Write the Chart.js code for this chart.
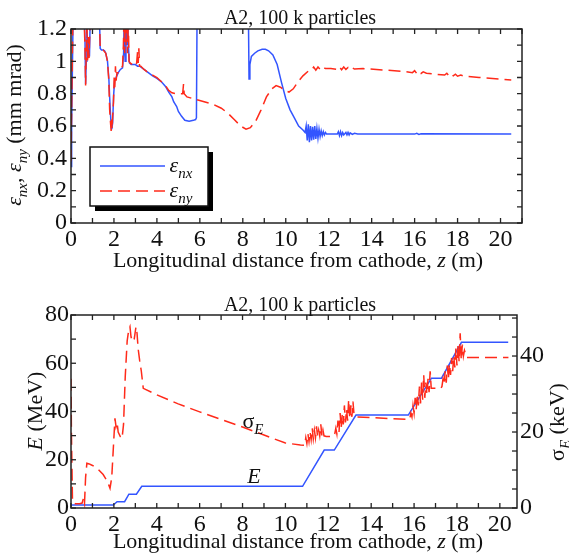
<!DOCTYPE html>
<html>
<head>
<meta charset="utf-8">
<script src="https://cdn.jsdelivr.net/npm/chart.js@4"></script>
<style>
body { margin: 0; background: #fff; }
canvas { position: absolute; left: 0; }
#top { top: 0; }
#bottom { top: 280px; }
</style>
</head>
<body>
<canvas id="top" width="569" height="280"></canvas>
<canvas id="bottom" width="569" height="277"></canvas>
<script>
// emittance vs z, [z (m), mm mrad]
var epsNX = [[0,0.35],[0.03,0.6],[0.07,1.0],[0.1,1.3],[0.2,1.5],[0.35,1.5],[0.5,1.4],[0.6,1.3],[0.65,1.15],[0.68,0.86],
  [0.71,1.0],[0.74,1.2],[0.78,1.05],[0.82,1.12],[0.86,1.03],[0.9,1.3],[0.95,1.5],[1.1,1.5],[1.3,1.4],[1.36,1.08],
  [1.42,1.07],[1.5,1.07],[1.56,1.065],[1.62,1.05],[1.7,1.0],[1.76,0.9],[1.82,0.72],[1.87,0.6],[1.9,0.58],[1.94,0.62],
  [1.98,0.78],[2.03,0.88],[2.1,0.9],[2.2,0.93],[2.3,0.95],[2.4,0.96],[2.45,1.05],[2.48,1.3],[2.52,1.0],[2.56,1.3],
  [2.6,1.1],[2.63,1.3],[2.67,1.1],[2.72,0.99],[2.8,0.98],[2.9,0.98],[3.0,0.98],[3.1,0.97],[3.2,0.97],[3.4,0.95],
  [3.6,0.93],[3.8,0.91],[4.0,0.895],[4.2,0.875],[4.4,0.845],[4.55,0.81],[4.7,0.78],[4.78,0.75],[4.85,0.735],[4.92,0.72],
  [5.0,0.69],[5.15,0.66],[5.3,0.635],[5.5,0.63],[5.7,0.635],[5.8,0.64],[5.84,0.65],[5.88,1.5],[6.5,1.5],[7.5,1.5],
  [8.2,1.5],[8.26,1.3],[8.29,0.89],[8.33,0.98],[8.4,1.03],[8.55,1.05],[8.7,1.065],[8.9,1.075],[9.05,1.075],[9.2,1.065],
  [9.4,1.04],[9.6,0.98],[9.8,0.87],[10.0,0.77],[10.2,0.7],[10.4,0.65],[10.6,0.6],[10.8,0.575],[10.9,0.56],
  [10.95,0.6],[11.0,0.51],[11.05,0.61],[11.1,0.5],[11.15,0.6],[11.2,0.51],[11.25,0.595],[11.3,0.515],[11.35,0.6],
  [11.4,0.52],[11.45,0.585],[11.5,0.525],[11.55,0.58],[11.6,0.535],[11.65,0.57],[11.7,0.54],[11.75,0.565],[11.8,0.545],
  [11.85,0.56],[11.9,0.55],[12.4,0.55],[12.45,0.565],[12.5,0.54],[12.55,0.565],[12.6,0.54],[12.65,0.56],[12.7,0.545],
  [12.8,0.56],[12.85,0.545],[12.9,0.56],[12.95,0.545],[13.0,0.558],[13.1,0.548],[13.2,0.555],[13.35,0.55],[16.0,0.55],
  [16.1,0.555],[16.2,0.548],[16.3,0.552],[20.5,0.55]];
var epsNY = [[0,0.38],[0.03,0.7],[0.07,1.1],[0.1,1.35],[0.2,1.5],[0.35,1.5],[0.5,1.4],[0.6,1.3],[0.65,1.1],[0.68,0.85],
  [0.71,1.05],[0.74,1.25],[0.77,1.0],[0.8,1.15],[0.84,1.02],[0.88,1.2],[0.92,1.5],[1.1,1.5],[1.3,1.4],[1.36,1.08],
  [1.42,1.07],[1.5,1.07],[1.56,1.06],[1.62,1.05],[1.7,1.0],[1.76,0.88],[1.8,0.7],[1.84,0.62],[1.87,0.57],[1.89,0.64],
  [1.91,0.58],[1.94,0.66],[1.98,0.75],[2.01,0.9],[2.04,0.84],[2.07,0.97],[2.1,0.88],[2.14,0.93],[2.2,0.93],[2.3,0.95],
  [2.4,0.97],[2.44,1.1],[2.47,1.3],[2.5,1.05],[2.53,1.3],[2.56,1.1],[2.6,1.3],[2.63,1.05],[2.67,1.25],[2.7,1.0],
  [2.75,0.99],[2.85,0.98],[2.95,0.99],[3.05,0.98],[3.1,1.06],[3.13,0.99],[3.16,1.08],[3.19,0.97],[3.25,0.97],[3.4,0.95],
  [3.6,0.93],[3.8,0.915],[4.0,0.9],[4.2,0.875],[4.4,0.85],[4.55,0.82],[4.7,0.805],[4.9,0.8],[5.1,0.8],[5.2,0.8],
  [5.24,0.86],[5.27,0.8],[5.4,0.78],[5.8,0.765],[6.2,0.75],[6.6,0.735],[7.0,0.71],[7.3,0.68],[7.6,0.64],[7.9,0.6],
  [8.15,0.58],[8.35,0.59],[8.6,0.63],[8.85,0.7],[9.1,0.78],[9.35,0.83],[9.55,0.85],[9.75,0.84],[9.95,0.82],[10.15,0.81],
  [10.35,0.83],[10.55,0.87],[10.8,0.91],[11.05,0.94],[11.2,0.945],[11.3,0.965],[11.4,0.945],[11.5,0.965],[11.6,0.95],
  [11.7,0.965],[11.85,0.955],[12.1,0.955],[12.4,0.95],[12.5,0.966],[12.6,0.948],[12.7,0.965],[12.8,0.95],[12.9,0.962],
  [13.0,0.95],[13.1,0.96],[13.2,0.952],[13.6,0.955],[14.5,0.947],[15.5,0.937],[15.9,0.93],[16.0,0.942],[16.1,0.925],
  [16.2,0.938],[16.3,0.925],[16.4,0.935],[16.55,0.926],[17.0,0.92],[17.4,0.915],[17.5,0.926],[17.6,0.91],[17.7,0.922],
  [17.8,0.91],[17.9,0.92],[18.0,0.908],[18.15,0.915],[18.3,0.908],[19.0,0.9],[20.5,0.885]];

// beam energy [z, MeV] and energy spread [z, keV]
var energyE = [[0,1.2],[1.97,1.2],[2.15,2.6],[2.5,2.6],[2.7,5.7],[3.05,5.7],[3.3,9],[10.8,9],[11.81,24],[12.28,24],
  [13.29,38.5],[15.73,38.5],[16.81,53.8],[17.28,53.8],[18.21,68.7],[20.39,68.7]];
var sigmaE = [[0,34],[0.02,20],[0.07,1.5],[0.2,1.1],[0.4,1.1],[0.52,1.3],[0.58,2.6],[0.63,1.2],[0.68,8],[0.74,11.8],
  [0.85,11.6],[1.0,11.2],[1.25,10.3],[1.5,8.8],[1.7,7],[1.82,5.2],[1.9,8],[1.97,15.3],[2.05,23.6],[2.1,21.4],
  [2.15,22.5],[2.2,20],[2.3,18.8],[2.38,18.3],[2.45,22],[2.53,34.6],[2.62,44],[2.69,46.8],[2.75,47.7],[2.8,45],
  [2.87,43.8],[2.95,44.5],[3.03,47.7],[3.08,46],[3.13,42],[3.2,38.9],[3.28,36],[3.37,31.5],[4,29.8],[5,27.4],
  [6,25.3],[7,23.3],[8,21.3],[9,19.2],[10,17.1],[10.7,16.6],[10.9,16.5],[10.95,18.5],[11.0,17],[11.05,19.5],
  [11.1,17.5],[11.15,20],[11.2,18],[11.25,21],[11.3,18.2],[11.35,20.5],[11.4,18.5],[11.45,21.5],[11.5,18.8],[11.55,20.5],
  [11.6,19],[11.65,22],[11.7,19],[11.75,20.5],[11.8,19],[11.9,18.8],[12.2,18.8],[12.3,19.5],[12.35,21],[12.4,19.5],
  [12.45,23],[12.5,20],[12.55,25],[12.6,21],[12.65,24.5],[12.7,22],[12.75,27],[12.8,22.5],[12.85,26],[12.9,23],
  [12.95,28.5],[13.0,23.5],[13.05,27],[13.1,24],[13.15,28],[13.2,24.5],[13.3,24],[15.73,23.3],[15.8,23.5],[15.85,25],
  [15.9,24],[15.95,27],[16.0,25],[16.05,29],[16.1,26],[16.15,30],[16.2,27],[16.25,32],[16.3,27.5],[16.35,33],
  [16.4,28.5],[16.45,35],[16.5,29],[16.55,33],[16.6,30],[16.65,34],[16.7,30.5],[16.75,36],[16.8,31.5],[17.25,31.5],
  [17.3,32],[17.35,34],[17.4,32.5],[17.45,36],[17.5,33],[17.55,37.5],[17.6,34],[17.65,38],[17.7,35],[17.75,39.5],
  [17.8,36],[17.85,40],[17.9,37],[17.95,42],[18.0,37.5],[18.05,43],[18.1,38.5],[18.15,46],[18.2,39],[18.25,43],
  [18.3,40],[18.35,41.5],[18.45,39.6],[20.4,39.6]];

var zTicks = [0, 2, 4, 6, 8, 10, 12, 14, 16, 18, 20];
var epsTicks = [0, 0.2, 0.4, 0.6, 0.8, 1, 1.2];
var eTicks = [0, 20, 40, 60, 80];
var sigTicks = [0, 20, 40];

var BLUE = '#3355ff';
var RED = '#ff2a1a';
var SERIF = "'Liberation Serif', 'Times New Roman', serif";

function pts(arr) {
  return arr.map(function (p) { return { x: p[0], y: p[1] }; });
}
function setTicks(vals) {
  return function (s) { s.ticks = vals.map(function (v) { return { value: v }; }); };
}

// mixed text: parts = [text, italic, subscript]
function drawRich(ctx, parts, x, y, angle, size) {
  size = size || 22;
  var sub = Math.round(size * 0.68);
  function font(p) { return (p[1] ? 'italic ' : '') + (p[2] ? sub : size) + 'px ' + SERIF; }
  ctx.save();
  ctx.translate(x, y);
  ctx.rotate(angle || 0);
  ctx.fillStyle = '#111';
  ctx.textBaseline = 'alphabetic';
  ctx.textAlign = 'left';
  var w = 0;
  parts.forEach(function (p) { ctx.font = font(p); w += ctx.measureText(p[0]).width; });
  var cx = -w / 2;
  parts.forEach(function (p) {
    ctx.font = font(p);
    ctx.fillText(p[0], cx, p[2] ? size * 0.25 : 0);
    cx += ctx.measureText(p[0]).width;
  });
  ctx.restore();
}

// frame plus inward tick marks
function drawFrame(chart, marks) {
  var ctx = chart.ctx, a = chart.chartArea;
  ctx.save();
  ctx.strokeStyle = '#222';
  ctx.lineWidth = 1.5;
  ctx.strokeRect(a.left, a.top, a.right - a.left, a.bottom - a.top);
  ctx.lineWidth = 1.3;
  marks.forEach(function (m) {
    var s = chart.scales[m.id];
    for (var i = 0; i * m.step <= s.max + 1e-9; i++) {
      var p = s.getPixelForValue(i * m.step);
      ctx.beginPath();
      if (m.id === 'x') {
        ctx.moveTo(p, a.bottom); ctx.lineTo(p, a.bottom - 5);
        ctx.moveTo(p, a.top); ctx.lineTo(p, a.top + 5);
      } else {
        if (m.left) { ctx.moveTo(a.left, p); ctx.lineTo(a.left + 5, p); }
        if (m.right) { ctx.moveTo(a.right, p); ctx.lineTo(a.right - 5, p); }
      }
      ctx.stroke();
    }
  });
  ctx.restore();
}

var tickFont = { family: SERIF, size: 24 };
var plainLabel = function (v) { return String(v); };
var xTitle = [['Longitudinal distance from cathode, ', 0, 0], ['z', 1, 0], [' (m)', 0, 0]];

var topDecor = {
  id: 'topDecor',
  afterDraw: function (chart) {
    var ctx = chart.ctx;
    drawFrame(chart, [{ id: 'x', step: 1 }, { id: 'y', step: 0.1, left: true, right: true }]);
    drawRich(ctx, [['A2, 100 k particles', 0, 0]], 300, 24, 0, 20);
    drawRich(ctx, xTitle, 298, 267);
    drawRich(ctx, [['ε', 1, 0], ['nx', 1, 1], [', ', 0, 0], ['ε', 1, 0], ['ny', 1, 1], [' (mm mrad)', 0, 0]], 21, 125, -Math.PI / 2);
    // legend box with drop shadow
    ctx.save();
    ctx.fillStyle = '#000';
    ctx.fillRect(95, 152, 118, 59);
    ctx.fillStyle = '#fff';
    ctx.fillRect(90, 147, 118, 59);
    ctx.strokeStyle = '#111';
    ctx.lineWidth = 1.5;
    ctx.strokeRect(90, 147, 118, 59);
    ctx.lineWidth = 1.5;
    ctx.strokeStyle = BLUE;
    ctx.beginPath(); ctx.moveTo(100, 166); ctx.lineTo(165, 166); ctx.stroke();
    ctx.strokeStyle = RED;
    ctx.setLineDash([12, 6]);
    ctx.beginPath(); ctx.moveTo(100, 191); ctx.lineTo(165, 191); ctx.stroke();
    ctx.restore();
    drawRich(ctx, [['ε', 1, 0], ['nx', 1, 1]], 181, 172);
    drawRich(ctx, [['ε', 1, 0], ['ny', 1, 1]], 181, 197);
  }
};

var bottomDecor = {
  id: 'bottomDecor',
  afterDraw: function (chart) {
    var ctx = chart.ctx;
    drawFrame(chart, [{ id: 'x', step: 1 }, { id: 'y', step: 10, left: true }, { id: 'y2', step: 5, right: true }]);
    drawRich(ctx, [['A2, 100 k particles', 0, 0]], 300, 31, 0, 20);
    drawRich(ctx, xTitle, 298, 268);
    drawRich(ctx, [['E', 1, 0], [' (MeV)', 0, 0]], 42, 131, -Math.PI / 2);
    drawRich(ctx, [['σ', 0, 0], ['E', 1, 1], [' (keV)', 0, 0]], 564, 142, -Math.PI / 2);
    drawRich(ctx, [['σ', 0, 0], ['E', 1, 1]], 253, 148);
    drawRich(ctx, [['E', 1, 0]], 254, 203);
  }
};

function lineSet(arr, color, dashed, axis, order) {
  return {
    data: pts(arr),
    borderColor: color,
    borderWidth: 1.5,
    borderDash: dashed ? [12, 6] : [],
    pointRadius: 0,
    tension: 0,
    yAxisID: axis,
    order: order
  };
}

var xScale = function (max, h) {
  return {
    type: 'linear', min: 0, max: max,
    afterBuildTicks: setTicks(zTicks),
    afterFit: function (s) { s.height = h; },
    grid: { display: false, drawTicks: false },
    border: { display: false },
    ticks: { font: tickFont, color: '#111', padding: 2, maxRotation: 0, autoSkip: false, callback: plainLabel }
  };
};

new Chart(document.getElementById('top'), {
  type: 'line',
  data: {
    datasets: [
      lineSet(epsNX, BLUE, false, 'y', 1),
      lineSet(epsNY, RED, true, 'y', 0)
    ]
  },
  options: {
    responsive: false,
    animation: false,
    layout: { padding: { top: 29, right: 47, left: 0, bottom: 0 } },
    plugins: { legend: { display: false }, tooltip: { enabled: false } },
    scales: {
      x: xScale(21, 57),
      y: {
        min: 0, max: 1.2,
        afterBuildTicks: setTicks(epsTicks),
        afterFit: function (s) { s.width = 71; },
        grid: { display: false, drawTicks: false },
        border: { display: false },
        ticks: { font: tickFont, color: '#111', padding: 4, callback: plainLabel }
      }
    }
  },
  plugins: [topDecor]
});

new Chart(document.getElementById('bottom'), {
  type: 'line',
  data: {
    datasets: [
      lineSet(energyE, BLUE, false, 'y', 1),
      lineSet(sigmaE, RED, true, 'y2', 0)
    ]
  },
  options: {
    responsive: false,
    animation: false,
    layout: { padding: { top: 35, right: 0, left: 0, bottom: 0 } },
    plugins: { legend: { display: false }, tooltip: { enabled: false } },
    scales: {
      x: xScale(20.8, 49),
      y: {
        min: 0, max: 80,
        afterBuildTicks: setTicks(eTicks),
        afterFit: function (s) { s.width = 71; },
        grid: { display: false, drawTicks: false },
        border: { display: false },
        ticks: { font: tickFont, color: '#111', padding: 2, callback: plainLabel }
      },
      y2: {
        position: 'right',
        min: 0, max: 50.8,
        afterBuildTicks: setTicks(sigTicks),
        afterFit: function (s) { s.width = 52; },
        grid: { display: false, drawTicks: false },
        border: { display: false },
        ticks: { font: tickFont, color: '#111', padding: 3, callback: plainLabel }
      }
    }
  },
  plugins: [bottomDecor]
});
</script>
</body>
</html>
